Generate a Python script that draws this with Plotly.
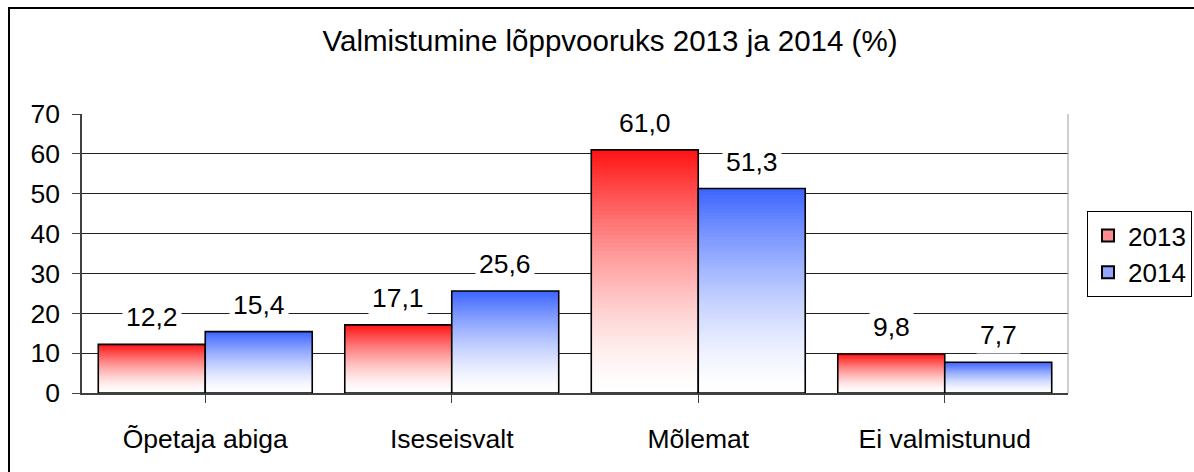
import plotly.graph_objects as go

categories = ["Õpetaja abiga", "Iseseisvalt", "Mõlemat", "Ei valmistunud"]
series_names = ["2013", "2014"]
values_2013 = [12.2, 17.1, 61.0, 9.8]
values_2014 = [15.4, 25.6, 51.3, 7.7]
y_ticks = [0, 10, 20, 30, 40, 50, 60, 70]
title_text = "Valmistumine lõppvooruks 2013 ja 2014 (%)"

top_colors = [(255, 18, 18), (59, 100, 255)]
legend_colors = ["#ff8c8c", "#93a6ff"]
FONT = "Liberation Sans, Arial, sans-serif"

W, H = 1194, 472
ML, MR, MT, MB = 82, 126, 114, 79
PW = W - ML - MR
PH = H - MT - MB

BAR_W = 0.434
N = 60
FS = 26.5

fig = go.Figure()
xs = list(range(len(categories)))

for si, vals in enumerate([values_2013, values_2014]):
    offset = -BAR_W if si == 0 else 0.0
    tc = top_colors[si]
    for k in range(N):
        h = k / N  # fraction from bottom
        s = (h + 0.5 / N) ** 1.5
        col = tuple(round(255 + (c - 255) * s) for c in tc)
        fig.add_trace(go.Bar(
            x=xs, y=[v * (1 - h) for v in vals], base=[v * h for v in vals],
            width=BAR_W, offset=offset,
            marker=dict(color="rgb(%d,%d,%d)" % col, line=dict(width=0)),
            showlegend=False, hoverinfo="skip",
        ))
    fig.add_trace(go.Bar(
        x=xs, y=vals, width=BAR_W, offset=offset,
        marker=dict(color="rgba(0,0,0,0)", line=dict(color="black", width=1.6)),
        showlegend=False, name=series_names[si],
    ))

for si in range(2):
    fig.add_trace(go.Bar(
        x=[None], y=[None], name=series_names[si],
        marker=dict(color=legend_colors[si], line=dict(color="black", width=1.5)),
    ))

annotations = []
for si, vals in enumerate([values_2013, values_2014]):
    dx = -BAR_W / 2 if si == 0 else BAR_W / 2
    for i, v in enumerate(vals):
        annotations.append(dict(
            x=i + dx, y=v, xref="x", yref="y",
            text=f"{v:.1f}".replace(".", ","), showarrow=False,
            yshift=27, yanchor="middle", xanchor="center",
            bgcolor="white", borderpad=3,
            font=dict(family=FONT, size=FS, color="black"),
        ))

def px_x(p):
    return (p - ML) / PW

def px_y(p):
    return (H - MB - p) / PH

shapes = [
    dict(type="line", xref="paper", yref="paper", x0=px_x(9), x1=px_x(9),
         y0=px_y(500), y1=px_y(7), line=dict(color="black", width=2)),
    dict(type="line", xref="paper", yref="paper", x0=px_x(8), x1=px_x(1220),
         y0=px_y(8), y1=px_y(8), line=dict(color="black", width=2)),
    dict(type="line", xref="paper", yref="paper", x0=1, x1=1, y0=0, y1=1,
         line=dict(color="#a0a0a0", width=1)),
]

fig.update_layout(
    width=W, height=H,
    margin=dict(l=ML, r=MR, t=MT, b=MB, autoexpand=False),
    paper_bgcolor="white", plot_bgcolor="white",
    barmode="overlay",
    font=dict(family=FONT, size=FS, color="black"),
    title=dict(text=title_text, x=610 / W, xanchor="center", xref="container",
               y=1 - 41 / H, yanchor="middle", yref="container",
               font=dict(family=FONT, size=29.5, color="black")),
    xaxis=dict(
        range=[-0.5, len(categories) - 0.5],
        tickmode="array", tickvals=xs, ticktext=categories,
        tickson="boundaries", ticks="outside", ticklen=8, tickcolor="#404040",
        showline=True, linecolor="#404040", linewidth=1.5,
        showgrid=False, zeroline=False, ticklabelstandoff=13,
        tickfont=dict(family=FONT, size=FS, color="black"),
    ),
    yaxis=dict(
        range=[0, 70], tickvals=y_ticks, ticks="outside", ticklen=8, tickcolor="#404040",
        showline=True, linecolor="#404040", linewidth=1.5,
        showgrid=True, gridcolor="#222222", gridwidth=1, zeroline=False,
        ticklabelstandoff=7,
        tickfont=dict(family=FONT, size=FS, color="black"),
    ),
    legend=dict(
        x=px_x(1087), xanchor="left", y=px_y(254), yanchor="middle",
        bordercolor="black", borderwidth=1, bgcolor="white",
        font=dict(family=FONT, size=26, color="black"),
        tracegroupgap=0, itemsizing="constant", itemwidth=30,
    ),
    annotations=annotations,
    shapes=shapes,
    showlegend=True,
)

fig.write_html(
    "out.html",
    config={"displayModeBar": False},
    post_script="document.body.style.margin='0';document.body.style.overflow='hidden';",
)
